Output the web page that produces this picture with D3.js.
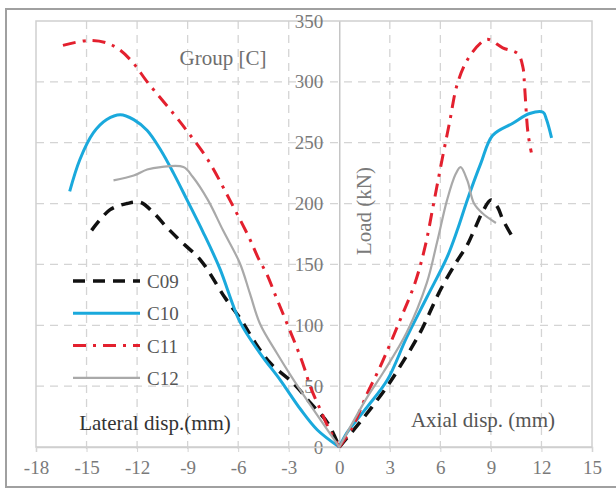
<!DOCTYPE html>
<html>
<head>
<meta charset="utf-8">
<script src="https://cdn.jsdelivr.net/npm/d3@7"></script>
<style>
  html, body { margin: 0; padding: 0; background: #fff; }
  svg { display: block; }
  text { font-family: "Liberation Serif", "DejaVu Serif", serif; }
</style>
</head>
<body>
<svg id="chart" width="616" height="497"></svg>
<script>
// Tick values for both axes
const xTicks = [-18, -15, -12, -9, -6, -3, 0, 3, 6, 9, 12, 15];
const yTicks = [0, 50, 100, 150, 200, 250, 300, 350];

// Specimen names
const specimens = ["C09", "C10", "C11", "C12"];

// Lateral displacement branches (mm, kN), drawn on the negative side
const lateralC09 = [[-14.7,178],[-13.6,195],[-12.6,200],[-11.8,201],[-11.0,192],[-10.2,180],[-9.4,169],[-8.2,153],[-6.8,123],[-5.8,104],[-5.1,88],[-4.1,69],[-2.7,52],[-1.7,36],[-0.7,20],[0,0]];
const lateralC10 = [[-16.0,210],[-15.4,236],[-14.6,258],[-13.8,269],[-13.0,273],[-12.2,269],[-11.4,260],[-10.6,244],[-9.8,224],[-9.0,202],[-8.1,177],[-7.1,147],[-5.9,103],[-4.7,77],[-3.5,55],[-2.3,31],[-1.3,14],[0,0]];
const lateralC11 = [[-16.4,330],[-14.9,334],[-13.8,332],[-13.0,326],[-12.2,315],[-11.4,300],[-9.85,274],[-9.0,259],[-7.8,236],[-6.5,203],[-5.35,172],[-4.8,155],[-4.3,142],[-3.8,125],[-3.0,98],[-2.5,81],[-2.1,66],[-1.7,49],[-1.1,30],[-0.65,16],[0,0]];
const lateralC12 = [[-13.4,219],[-12.2,223],[-11.4,228],[-10.6,230],[-9.25,230],[-8.7,222],[-7.8,203],[-6.9,178],[-5.9,151],[-5.3,126],[-4.7,101],[-3.7,77],[-2.8,57],[-1.5,30],[0,0]];

// Axial displacement branches (mm, kN), drawn on the positive side
const axialC09 = [[0,0],[1.5,25],[2.85,50],[3.6,66],[4.8,94],[6.0,129],[7.0,153],[7.6,166],[8.0,178],[8.5,193],[9.0,203],[9.4,197],[9.7,187],[10.3,172]];
const axialC10 = [[0,0],[0.47,12],[1.66,33],[2.85,55],[4.0,90],[5.2,123],[6.4,156],[7.0,178],[7.6,203],[8.4,233],[9.1,256],[10.3,266],[11.3,274],[12.1,275],[12.3,269],[12.6,254]];
const axialC11 = [[0,0],[0.77,16],[1.66,44],[2.43,66],[3.6,104],[4.5,135],[5.1,165],[5.6,200],[6.1,236],[6.55,267],[7.0,298],[7.6,318],[8.4,332],[8.8,335],[9.7,328],[10.6,323],[10.9,312],[11.0,296],[11.2,258],[11.4,242]];
const axialC12 = [[0,0],[1.66,41],[2.6,61],[4.0,94],[5.2,135],[5.8,168],[6.4,203],[6.9,224],[7.2,230],[7.6,219],[8.0,200],[8.5,192],[9.3,184]];

const lateralData = [lateralC09, lateralC10, lateralC11, lateralC12];
const axialData = [axialC09, axialC10, axialC11, axialC12];

// Per-specimen line styles
const styles = {
  C09: { color: "#111111", width: 3.5, dash: "12,8" },
  C10: { color: "#1aa9dc", width: 3, dash: null },
  C11: { color: "#e3202e", width: 3, dash: "13,7,3,7" },
  C12: { color: "#a9a9a9", width: 2.2, dash: null }
};

const svg = d3.select("#chart");

// Outer chart frame
svg.append("rect")
  .attr("x", 6).attr("y", 9).attr("width", 640).attr("height", 478)
  .attr("fill", "#fff").attr("stroke", "#a0a0a0").attr("stroke-width", 2);

const x = d3.scaleLinear().domain([-18, 15]).range([36, 592]);
const y = d3.scaleLinear().domain([0, 350]).range([447, 21]);

// Dashed grid
const grid = svg.append("g");
grid.selectAll("line.gx")
  .data(xTicks.filter(v => v !== 0 && v !== -18 && v !== 15))
  .join("line")
  .attr("x1", d => x(d)).attr("x2", d => x(d))
  .attr("y1", y(350)).attr("y2", y(0) + 5)
  .attr("stroke", "#d4d4d4").attr("stroke-width", 1.3).attr("stroke-dasharray", "8,6");
grid.selectAll("line.gy")
  .data(yTicks.filter(v => v !== 0 && v !== 350))
  .join("line")
  .attr("x1", x(-18)).attr("x2", x(15))
  .attr("y1", d => y(d)).attr("y2", d => y(d))
  .attr("stroke", "#d4d4d4").attr("stroke-width", 1.3).attr("stroke-dasharray", "8,6");

// Plot area border
svg.append("rect")
  .attr("x", x(-18)).attr("y", y(350))
  .attr("width", x(15) - x(-18)).attr("height", y(0) - y(350))
  .attr("fill", "none").attr("stroke", "#cfcfcf").attr("stroke-width", 1.5);

// Plain hyphen-minus labels
const fmt = d => String(d);

// Vertical axis through x = 0
const yAxis = d3.axisLeft(y).tickValues(yTicks).tickFormat(fmt).tickSize(0).tickPadding(16);
const yg = svg.append("g").attr("transform", `translate(${x(0)},0)`).call(yAxis);
yg.select(".domain").attr("stroke", "#bdbdbd").attr("stroke-width", 1.3);
yg.selectAll("text").attr("fill", "#7a7a7a").attr("font-size", 19)
  .attr("font-family", "'Liberation Serif', serif");

// Horizontal axis along the bottom
const xAxis = d3.axisBottom(x).tickValues(xTicks).tickFormat(fmt).tickSize(5).tickPadding(9);
const xg = svg.append("g").attr("transform", `translate(0,${y(0)})`).call(xAxis);
xg.select(".domain").attr("stroke", "#cfcfcf").attr("stroke-width", 1.5);
xg.selectAll(".tick line").attr("stroke", "#d4d4d4");
xg.selectAll("text").attr("fill", "#7a7a7a").attr("font-size", 19)
  .attr("font-family", "'Liberation Serif', serif");

// Curves
const line = d3.line()
  .x(d => x(d[0])).y(d => y(d[1]))
  .curve(d3.curveCatmullRom.alpha(0.5));

const curves = svg.append("g");
specimens.forEach((name, i) => {
  const s = styles[name];
  [lateralData[i], axialData[i]].forEach(branch => {
    curves.append("path")
      .attr("d", line(branch))
      .attr("fill", "none")
      .attr("stroke", s.color)
      .attr("stroke-width", s.width)
      .attr("stroke-dasharray", s.dash)
      .attr("stroke-linejoin", "round");
  });
});

// Legend
const legend = svg.append("g");
specimens.forEach((name, i) => {
  const s = styles[name];
  const ly = 281 + i * 32.3;
  legend.append("line")
    .attr("x1", 73).attr("x2", 140).attr("y1", ly).attr("y2", ly)
    .attr("stroke", s.color).attr("stroke-width", s.width)
    .attr("stroke-dasharray", s.dash);
  legend.append("text")
    .attr("x", 147).attr("y", ly + 7)
    .attr("fill", "#555").attr("font-size", 19)
    .text(name);
});

// Annotations
svg.append("text").attr("x", 223).attr("y", 65).attr("text-anchor", "middle")
  .attr("fill", "#6e6e6e").attr("font-size", 21).text("Group [C]");
svg.append("text").attr("x", 155).attr("y", 430).attr("text-anchor", "middle")
  .attr("fill", "#333").attr("font-size", 21).text("Lateral disp.(mm)");
svg.append("text").attr("x", 483).attr("y", 427).attr("text-anchor", "middle")
  .attr("fill", "#555").attr("font-size", 21).text("Axial disp. (mm)");
svg.append("text")
  .attr("transform", "translate(371,211) rotate(-90)")
  .attr("text-anchor", "middle")
  .attr("fill", "#7a7a7a").attr("font-size", 21).text("Load (kN)");
</script>
</body>
</html>
